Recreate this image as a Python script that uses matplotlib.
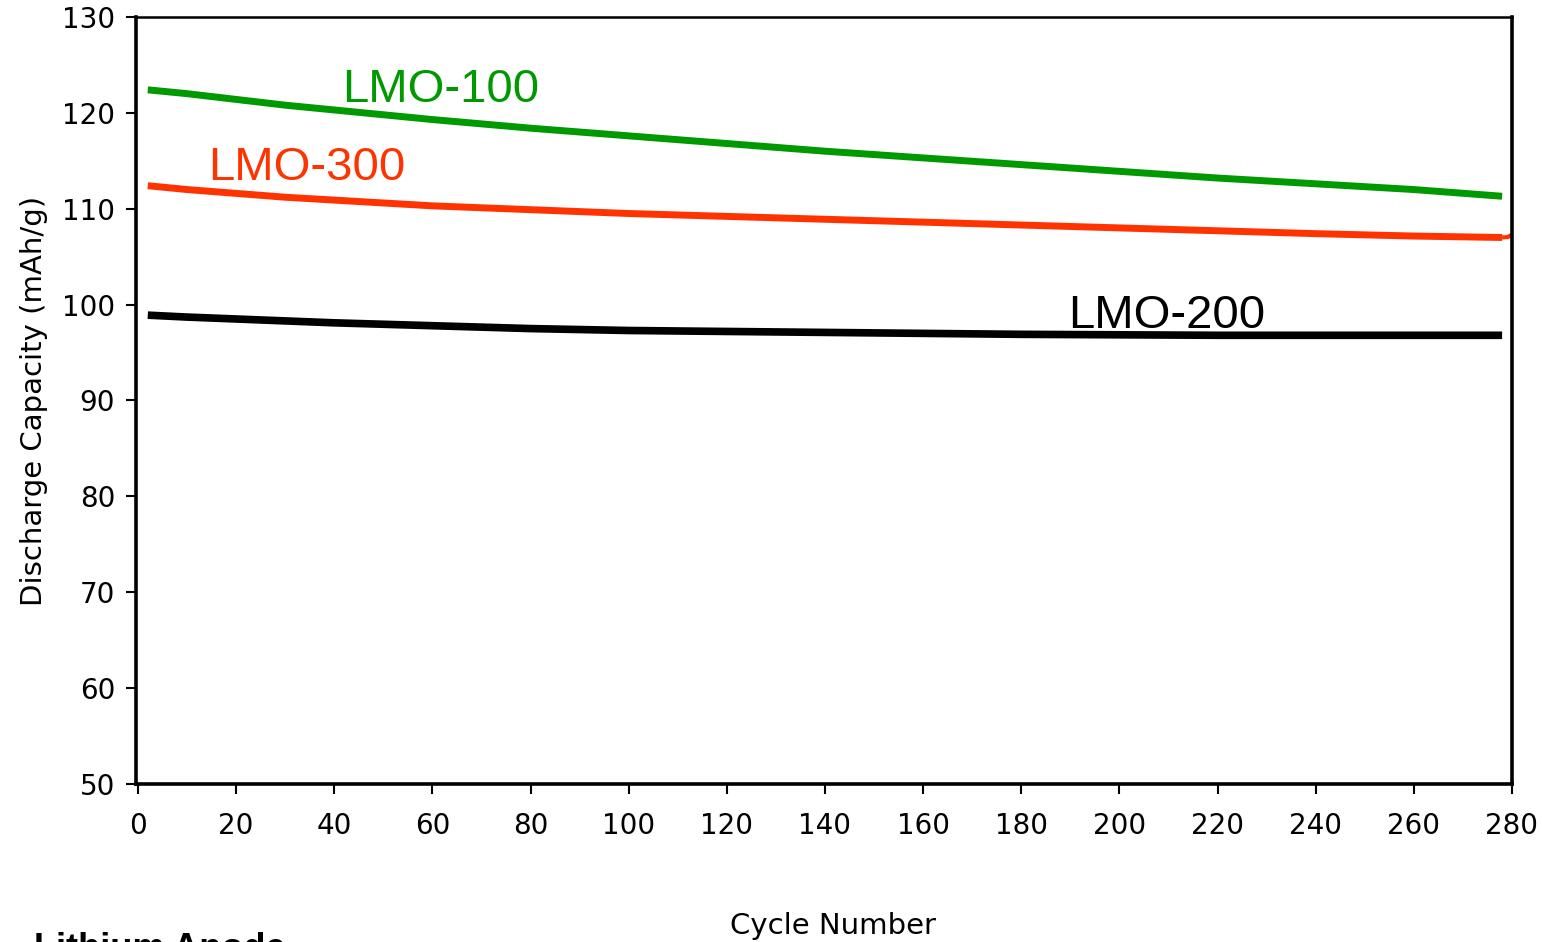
import numpy as np
import matplotlib.pyplot as plt
import matplotlib as mpl

mpl.use('Agg')

# values
cycles = [2, 10, 20, 30, 40, 50, 60, 70, 80, 90, 100, 120, 140, 160, 180, 200, 220, 240, 260, 278]
lmo100 = [122.4, 122.0, 121.4, 120.8, 120.3, 119.8, 119.3, 118.85, 118.4, 118.0, 117.6, 116.8, 116.0,
          115.3, 114.6, 113.9, 113.2, 112.6, 112.0, 111.3]
lmo300 = [112.4, 112.0, 111.6, 111.2, 110.9, 110.6, 110.3, 110.1, 109.9, 109.7, 109.5, 109.2, 108.9,
          108.6, 108.3, 108.0, 107.7, 107.4, 107.15, 107.0]
lmo200 = [98.9, 98.7, 98.5, 98.3, 98.1, 97.95, 97.8, 97.65, 97.5, 97.4, 97.3, 97.2, 97.1,
          97.0, 96.9, 96.85, 96.8, 96.8, 96.8, 96.8]
red_tail_x = [278, 279.2, 280]
red_tail_y = [107.0, 107.05, 107.3]

xticks = np.arange(0, 281, 20)
yticks = np.arange(50, 131, 10)

plt.rcParams['font.family'] = ['DejaVu Sans']

fig = plt.figure(figsize=(15.42, 9.42), dpi=100)
ax = fig.add_axes([0.0882, 0.1677, 0.8923, 0.8143])

ax.plot(cycles, lmo100, color='#009900', lw=5, solid_capstyle='butt')
ax.plot(cycles, lmo300, color='#ff3300', lw=5, solid_capstyle='butt')
ax.plot(red_tail_x, red_tail_y, color='#ff3300', lw=3, solid_capstyle='butt')
ax.plot(cycles, lmo200, color='black', lw=5.5, solid_capstyle='butt')

lab = dict(family='Liberation Sans', fontsize=34, ha='left', va='baseline')
ax.text(41.6, 121.1, 'LMO-100', color='#009900', **lab)
ax.text(14.3, 113.0, 'LMO-300', color='#ff3300', **lab)
ax.text(189.5, 97.6, 'LMO-200', color='black', **lab)

ax.set_xlim(-0.4, 280)
ax.set_ylim(50, 130)
ax.set_xticks(xticks)
ax.set_yticks(yticks)
ax.tick_params(direction='out', length=7, width=1.5, labelsize=20)
ax.tick_params(axis='x', pad=13)
ax.tick_params(axis='y', pad=8)

for s in ['left', 'bottom', 'right']:
    ax.spines[s].set_linewidth(2.6)
ax.spines['top'].set_linewidth(1.8)

ax.set_ylabel('Discharge Capacity (mAh/g)', fontsize=21, labelpad=10)
fig.text(0.54, 0.017, 'Cycle Number', ha='center', va='center', fontsize=21)
fig.text(0.022, 0.0106, 'Lithium Anode', ha='left', va='top', fontsize=26,
         fontweight='bold', family='Liberation Sans')

fig.savefig('out.png', dpi=100)
